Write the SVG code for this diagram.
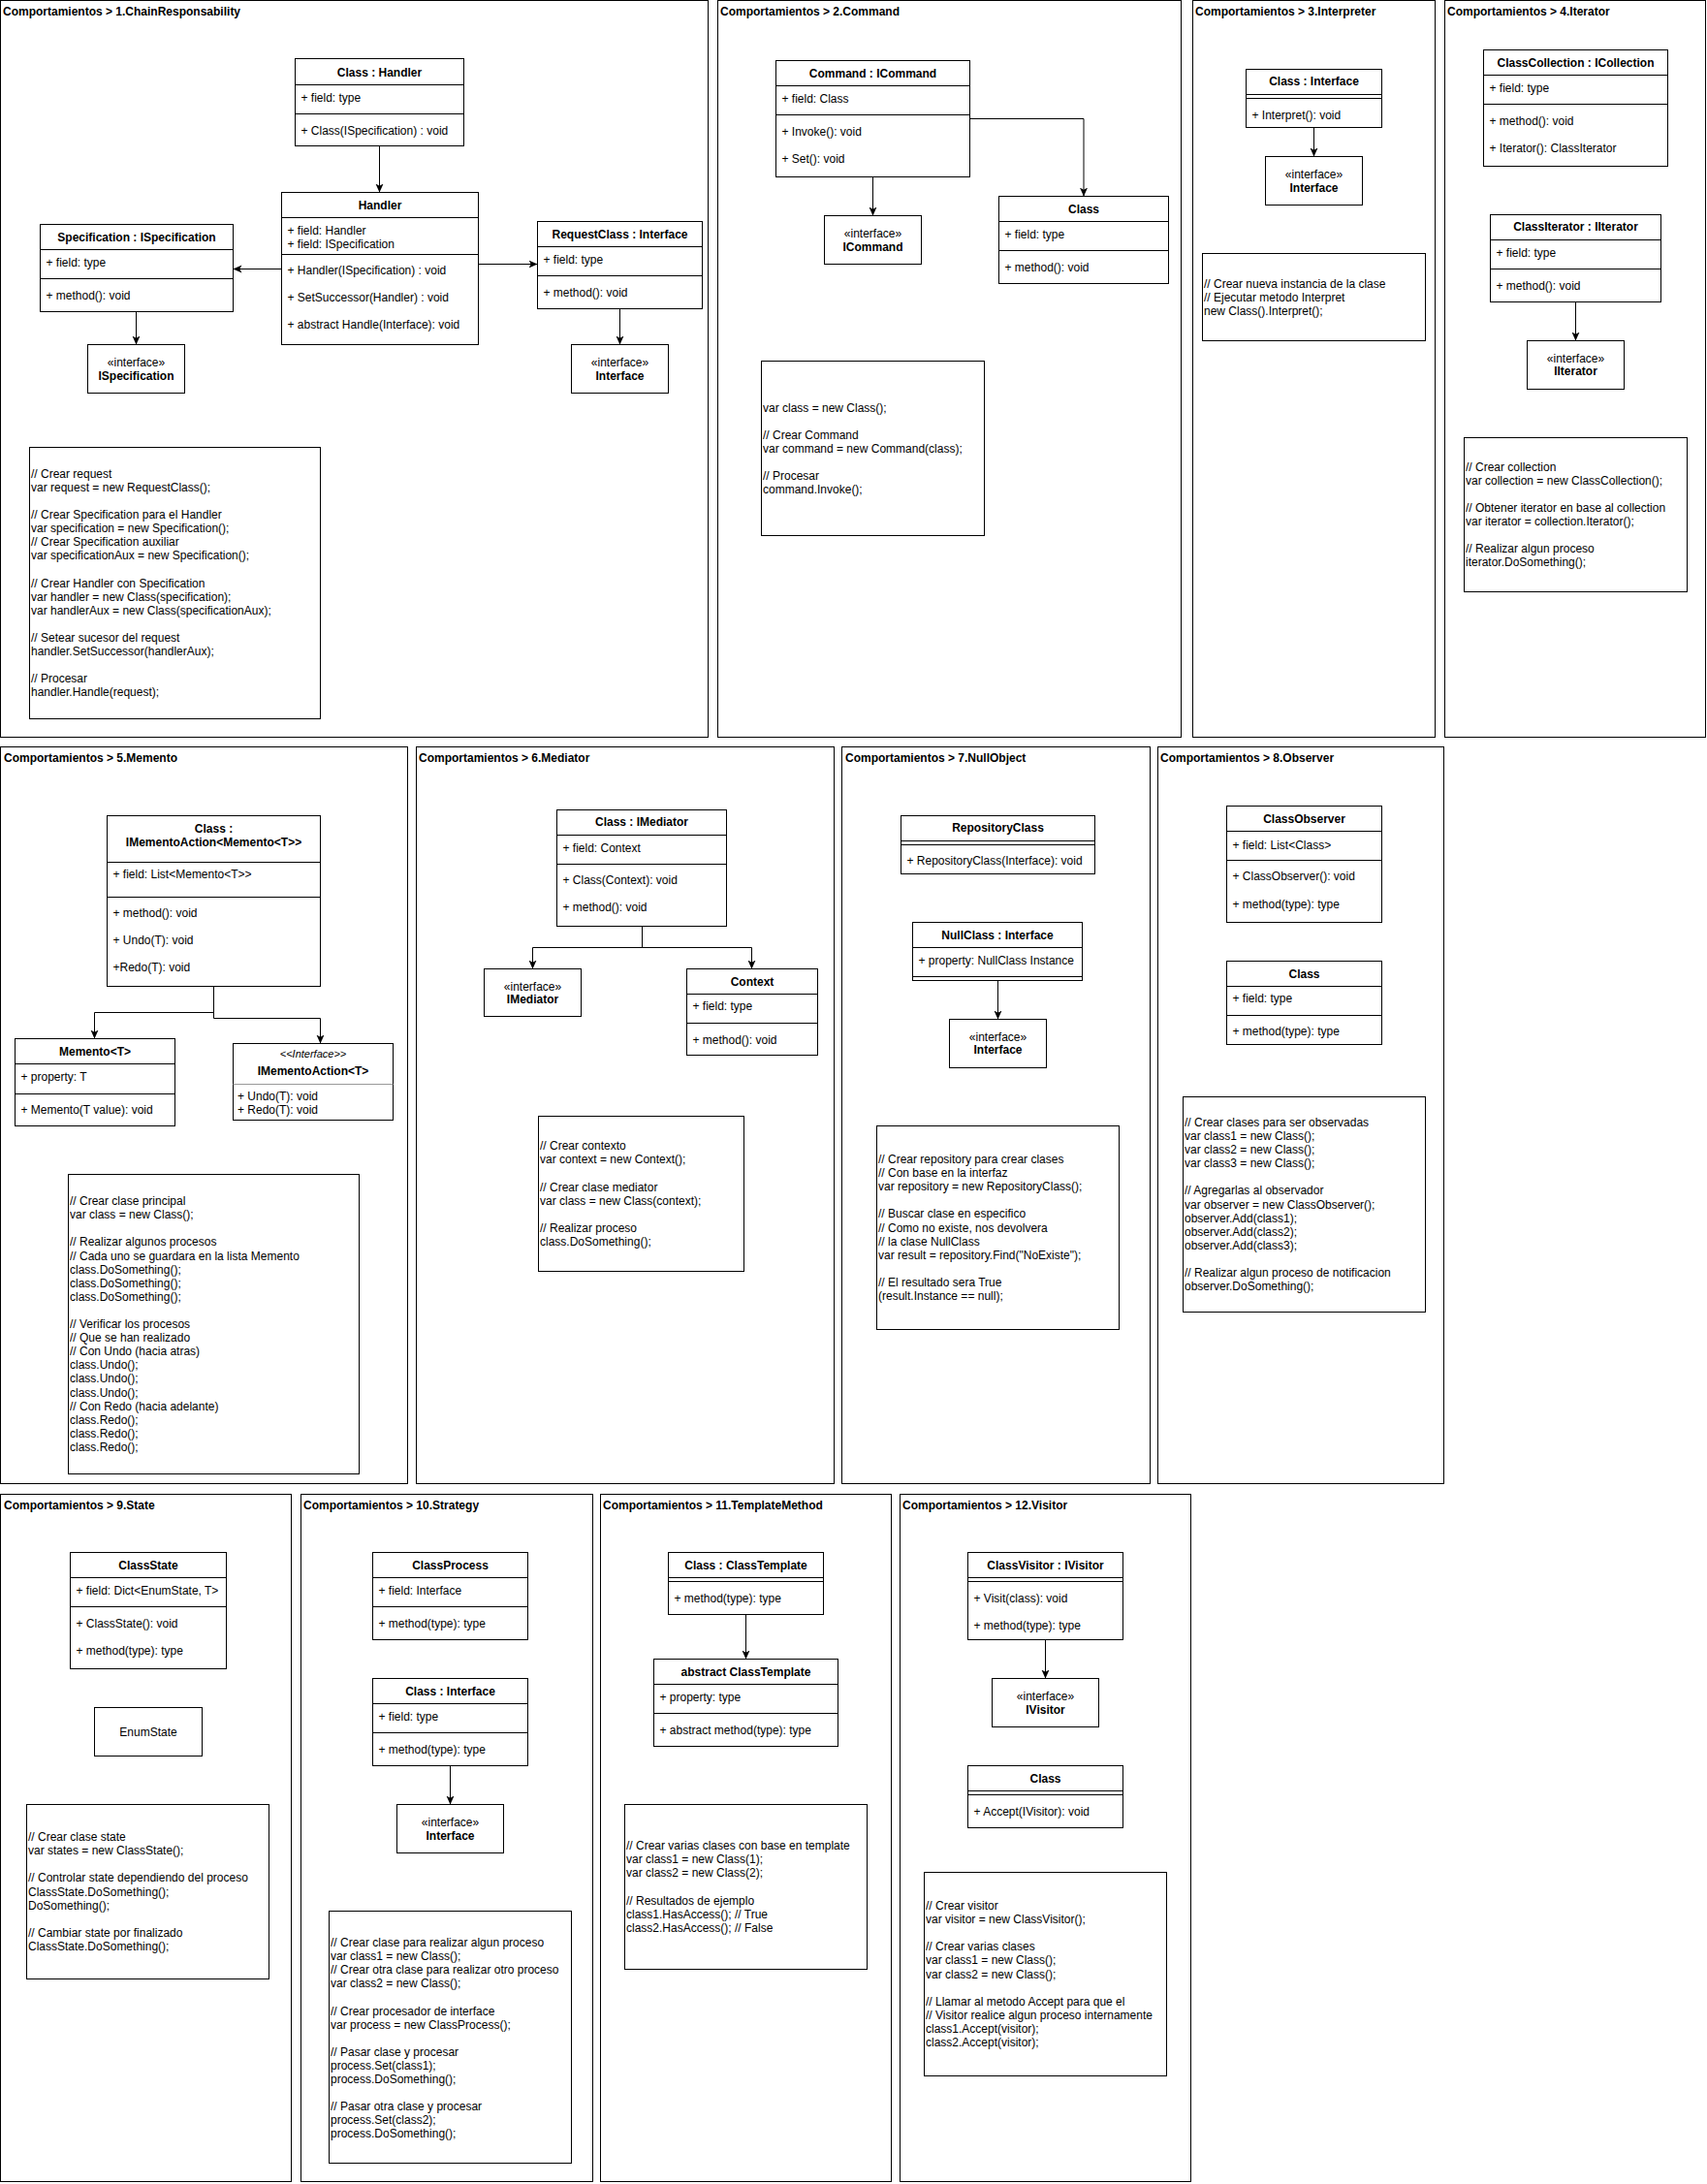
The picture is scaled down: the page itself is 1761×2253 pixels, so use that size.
<svg xmlns="http://www.w3.org/2000/svg" width="1761" height="2253" viewBox="0 0 1761 2253">
<style>
text{font-family:"Liberation Sans",Arial,Helvetica,sans-serif;font-size:12px;fill:#000}
.ti{font-weight:bold}
.hd{font-weight:bold;text-anchor:middle}
.st{text-anchor:middle}
.it{font-style:italic;text-anchor:middle;font-size:11px}
.fr,.bx{fill:#fff;stroke:#000;stroke-width:1}
.sep{stroke:#000;stroke-width:1}
.sepg{stroke:#999;stroke-width:1}
.cn{fill:none;stroke:#000;stroke-width:1;marker-end:url(#arr)}
</style>
<defs>
<marker id="arr" viewBox="0 0 10 10" refX="10" refY="5" markerWidth="9" markerHeight="9" markerUnits="userSpaceOnUse" orient="auto"><path d="M0,0.5 L10,5 L0,9.5 L2.5,5 z" fill="#000"/></marker>
</defs>
<rect x="0" y="0" width="1761" height="2253" fill="#fff"/>

<!-- Panel frames -->
<g id="panel-1"><rect class="fr" x="0.5" y="0.5" width="730" height="760"/><text class="ti" x="3" y="16">Comportamientos &gt; 1.ChainResponsability</text></g>
<g id="panel-2"><rect class="fr" x="740.5" y="0.5" width="478" height="760"/><text class="ti" x="743" y="16">Comportamientos &gt; 2.Command</text></g>
<g id="panel-3"><rect class="fr" x="1230.5" y="0.5" width="250" height="760"/><text class="ti" x="1233" y="16">Comportamientos &gt; 3.Interpreter</text></g>
<g id="panel-4"><rect class="fr" x="1490.5" y="0.5" width="269" height="760"/><text class="ti" x="1493" y="16">Comportamientos &gt; 4.Iterator</text></g>
<g id="panel-5"><rect class="fr" x="0.5" y="770.5" width="420" height="760"/><text class="ti" x="4" y="786">Comportamientos &gt; 5.Memento</text></g>
<g id="panel-6"><rect class="fr" x="429.5" y="770.5" width="431" height="760"/><text class="ti" x="432" y="786">Comportamientos &gt; 6.Mediator</text></g>
<g id="panel-7"><rect class="fr" x="868.5" y="770.5" width="318" height="760"/><text class="ti" x="872" y="786">Comportamientos &gt; 7.NullObject</text></g>
<g id="panel-8"><rect class="fr" x="1194.5" y="770.5" width="295" height="760"/><text class="ti" x="1197" y="786">Comportamientos &gt; 8.Observer</text></g>
<g id="panel-9"><rect class="fr" x="0.5" y="1541.5" width="300" height="709"/><text class="ti" x="4" y="1557">Comportamientos &gt; 9.State</text></g>
<g id="panel-10"><rect class="fr" x="310.5" y="1541.5" width="301" height="709"/><text class="ti" x="313" y="1557">Comportamientos &gt; 10.Strategy</text></g>
<g id="panel-11"><rect class="fr" x="619.5" y="1541.5" width="300" height="709"/><text class="ti" x="622" y="1557">Comportamientos &gt; 11.TemplateMethod</text></g>
<g id="panel-12"><rect class="fr" x="928.5" y="1541.5" width="300" height="709"/><text class="ti" x="931" y="1557">Comportamientos &gt; 12.Visitor</text></g>

<!-- Panel 1 -->
<g id="p1-class-handler">
<rect class="bx" x="304.5" y="60.5" width="174" height="90"/>
<line class="sep" x1="304.5" y1="87.5" x2="478.5" y2="87.5"/>
<line class="sep" x1="304.5" y1="117.5" x2="478.5" y2="117.5"/>
<text class="hd" x="391.5" y="79">Class : Handler</text>
<text x="310.5" y="105">+ field: type</text>
<text x="310.5" y="139">+ Class(ISpecification) : void</text>
</g>
<g id="p1-handler">
<rect class="bx" x="290.5" y="198.5" width="203" height="157"/>
<line class="sep" x1="290.5" y1="224.5" x2="493.5" y2="224.5"/>
<line class="sep" x1="290.5" y1="262.5" x2="493.5" y2="262.5"/>
<text class="hd" x="392" y="216">Handler</text>
<text x="296.5" y="242">+ field: Handler</text>
<text x="296.5" y="256">+ field: ISpecification</text>
<text x="296.5" y="283">+ Handler(ISpecification) : void</text>
<text x="296.5" y="311">+ SetSuccessor(Handler) : void</text>
<text x="296.5" y="339">+ abstract Handle(Interface): void</text>
</g>
<g id="p1-specification">
<rect class="bx" x="41.5" y="231.5" width="199" height="90"/>
<line class="sep" x1="41.5" y1="257.5" x2="240.5" y2="257.5"/>
<line class="sep" x1="41.5" y1="287.5" x2="240.5" y2="287.5"/>
<text class="hd" x="141" y="249">Specification : ISpecification</text>
<text x="47.5" y="275">+ field: type</text>
<text x="47.5" y="309">+ method(): void</text>
</g>
<g id="p1-requestclass">
<rect class="bx" x="554.5" y="228.5" width="170" height="90"/>
<line class="sep" x1="554.5" y1="254.5" x2="724.5" y2="254.5"/>
<line class="sep" x1="554.5" y1="284.5" x2="724.5" y2="284.5"/>
<text class="hd" x="639.5" y="246">RequestClass : Interface</text>
<text x="560.5" y="272">+ field: type</text>
<text x="560.5" y="306">+ method(): void</text>
</g>
<g id="p1-ispecification">
<rect class="bx" x="90.5" y="355.5" width="100" height="50"/>
<text class="st" x="140.5" y="378">«interface»</text>
<text class="hd" x="140.5" y="392">ISpecification</text>
</g>
<g id="p1-interface">
<rect class="bx" x="589.5" y="355.5" width="100" height="50"/>
<text class="st" x="639.5" y="378">«interface»</text>
<text class="hd" x="639.5" y="392">Interface</text>
</g>
<g id="p1-code">
<rect class="bx" x="30.5" y="461.5" width="300" height="280"/>
<text x="32" y="492.7"><tspan x="32">// Crear request</tspan><tspan x="32" dy="14.1">var request = new RequestClass();</tspan><tspan x="32" dy="28.2">// Crear Specification para el Handler</tspan><tspan x="32" dy="14.1">var specification = new Specification();</tspan><tspan x="32" dy="14.1">// Crear Specification auxiliar</tspan><tspan x="32" dy="14.1">var specificationAux = new Specification();</tspan><tspan x="32" dy="28.2">// Crear Handler con Specification</tspan><tspan x="32" dy="14.1">var handler = new Class(specification);</tspan><tspan x="32" dy="14.1">var handlerAux = new Class(specificationAux);</tspan><tspan x="32" dy="28.2">// Setear sucesor del request</tspan><tspan x="32" dy="14.1">handler.SetSuccessor(handlerAux);</tspan><tspan x="32" dy="28.2">// Procesar</tspan><tspan x="32" dy="14.1">handler.Handle(request);</tspan></text>
</g>

<!-- Panel 2 -->
<g id="p2-command">
<rect class="bx" x="800.5" y="62.5" width="200" height="120"/>
<line class="sep" x1="800.5" y1="88.5" x2="1000.5" y2="88.5"/>
<line class="sep" x1="800.5" y1="118.5" x2="1000.5" y2="118.5"/>
<text class="hd" x="900.5" y="79.5">Command : ICommand</text>
<text x="806.5" y="106">+ field: Class</text>
<text x="806.5" y="139.5">+ Invoke(): void</text>
<text x="806.5" y="167.5">+ Set(): void</text>
</g>
<g id="p2-icommand">
<rect class="bx" x="850.5" y="222.5" width="100" height="50"/>
<text class="st" x="900.5" y="245">«interface»</text>
<text class="hd" x="900.5" y="259">ICommand</text>
</g>
<g id="p2-class">
<rect class="bx" x="1030.5" y="202.5" width="175" height="90"/>
<line class="sep" x1="1030.5" y1="228.5" x2="1205.5" y2="228.5"/>
<line class="sep" x1="1030.5" y1="258.5" x2="1205.5" y2="258.5"/>
<text class="hd" x="1118" y="219.5">Class</text>
<text x="1036.5" y="246">+ field: type</text>
<text x="1036.5" y="279.5">+ method(): void</text>
</g>
<g id="p2-code">
<rect class="bx" x="785.5" y="372.5" width="230" height="180"/>
<text x="787" y="424.7"><tspan x="787">var class = new Class();</tspan><tspan x="787" dy="28.2">// Crear Command</tspan><tspan x="787" dy="14.1">var command = new Command(class);</tspan><tspan x="787" dy="28.2">// Procesar</tspan><tspan x="787" dy="14.1">command.Invoke();</tspan></text>
</g>

<!-- Panel 3 -->
<g id="p3-class">
<rect class="bx" x="1285.5" y="71.5" width="140" height="60"/>
<line class="sep" x1="1285.5" y1="97.5" x2="1425.5" y2="97.5"/>
<line class="sep" x1="1285.5" y1="101.5" x2="1425.5" y2="101.5"/>
<text class="hd" x="1355.5" y="88">Class : Interface</text>
<text x="1291.5" y="122.6">+ Interpret(): void</text>
</g>
<g id="p3-interface">
<rect class="bx" x="1305.5" y="161.5" width="100" height="50"/>
<text class="st" x="1355.5" y="184">«interface»</text>
<text class="hd" x="1355.5" y="198">Interface</text>
</g>
<g id="p3-code">
<rect class="bx" x="1240.5" y="261.5" width="230" height="90"/>
<text x="1242" y="296.5"><tspan x="1242">// Crear nueva instancia de la clase</tspan><tspan x="1242" dy="14.1">// Ejecutar metodo Interpret</tspan><tspan x="1242" dy="14.1">new Class().Interpret();</tspan></text>
</g>

<!-- Panel 4 -->
<g id="p4-classcollection">
<rect class="bx" x="1530.5" y="51.5" width="190" height="120"/>
<line class="sep" x1="1530.5" y1="77.5" x2="1720.5" y2="77.5"/>
<line class="sep" x1="1530.5" y1="107.5" x2="1720.5" y2="107.5"/>
<text class="hd" x="1625.5" y="68.5">ClassCollection : ICollection</text>
<text x="1536.5" y="94.5">+ field: type</text>
<text x="1536.5" y="128.5">+ method(): void</text>
<text x="1536.5" y="156.5">+ Iterator(): ClassIterator</text>
</g>
<g id="p4-classiterator">
<rect class="bx" x="1537.5" y="221.5" width="176" height="90"/>
<line class="sep" x1="1537.5" y1="247.5" x2="1713.5" y2="247.5"/>
<line class="sep" x1="1537.5" y1="277.5" x2="1713.5" y2="277.5"/>
<text class="hd" x="1625.5" y="238.4">ClassIterator : IIterator</text>
<text x="1543.5" y="264.5">+ field: type</text>
<text x="1543.5" y="298.5">+ method(): void</text>
</g>
<g id="p4-iiterator">
<rect class="bx" x="1575.5" y="351.5" width="100" height="50"/>
<text class="st" x="1625.5" y="373.6">«interface»</text>
<text class="hd" x="1625.5" y="387.4">IIterator</text>
</g>
<g id="p4-code">
<rect class="bx" x="1510.5" y="451.5" width="230" height="159"/>
<text x="1512" y="485.7"><tspan x="1512">// Crear collection</tspan><tspan x="1512" dy="14.1">var collection = new ClassCollection();</tspan><tspan x="1512" dy="28.2">// Obtener iterator en base al collection</tspan><tspan x="1512" dy="14.1">var iterator = collection.Iterator();</tspan><tspan x="1512" dy="28.2">// Realizar algun proceso</tspan><tspan x="1512" dy="14.1">iterator.DoSomething();</tspan></text>
</g>

<!-- Panel 5 -->
<g id="p5-class">
<rect class="bx" x="110.5" y="841.5" width="220" height="176"/>
<line class="sep" x1="110.5" y1="889.5" x2="330.5" y2="889.5"/>
<line class="sep" x1="110.5" y1="925.5" x2="330.5" y2="925.5"/>
<text class="hd" x="220.5" y="859">Class :</text>
<text class="hd" x="220.5" y="872.5">IMementoAction&lt;Memento&lt;T&gt;&gt;</text>
<text x="116.5" y="906.3">+ field: List&lt;Memento&lt;T&gt;&gt;</text>
<text x="116.5" y="946.1">+ method(): void</text>
<text x="116.5" y="974.2">+ Undo(T): void</text>
<text x="116.5" y="1002.3">+Redo(T): void</text>
</g>
<g id="p5-memento">
<rect class="bx" x="15.5" y="1071.5" width="165" height="90"/>
<line class="sep" x1="15.5" y1="1097.5" x2="180.5" y2="1097.5"/>
<line class="sep" x1="15.5" y1="1128.5" x2="180.5" y2="1128.5"/>
<text class="hd" x="98" y="1088.6">Memento&lt;T&gt;</text>
<text x="21.5" y="1114.8">+ property: T</text>
<text x="21.5" y="1148.7">+ Memento(T value): void</text>
</g>
<g id="p5-imementoaction">
<rect class="bx" x="240.5" y="1076.5" width="165" height="79"/>
<line class="sepg" x1="240.5" y1="1118.5" x2="405.5" y2="1118.5"/>
<text class="it" x="323" y="1091">&lt;&lt;Interface&gt;&gt;</text>
<text class="hd" x="323" y="1108.5">IMementoAction&lt;T&gt;</text>
<text x="245" y="1135">+ Undo(T): void</text>
<text x="245" y="1149.2">+ Redo(T): void</text>
</g>
<g id="p5-code">
<rect class="bx" x="70.5" y="1211.5" width="300" height="309"/>
<text x="72" y="1243.1"><tspan x="72">// Crear clase principal</tspan><tspan x="72" dy="14.1">var class = new Class();</tspan><tspan x="72" dy="28.2">// Realizar algunos procesos</tspan><tspan x="72" dy="14.1">// Cada uno se guardara en la lista Memento</tspan><tspan x="72" dy="14.1">class.DoSomething();</tspan><tspan x="72" dy="14.1">class.DoSomething();</tspan><tspan x="72" dy="14.1">class.DoSomething();</tspan><tspan x="72" dy="28.2">// Verificar los procesos</tspan><tspan x="72" dy="14.1">// Que se han realizado</tspan><tspan x="72" dy="14.1">// Con Undo (hacia atras)</tspan><tspan x="72" dy="14.1">class.Undo();</tspan><tspan x="72" dy="14.1">class.Undo();</tspan><tspan x="72" dy="14.1">class.Undo();</tspan><tspan x="72" dy="14.1">// Con Redo (hacia adelante)</tspan><tspan x="72" dy="14.1">class.Redo();</tspan><tspan x="72" dy="14.1">class.Redo();</tspan><tspan x="72" dy="14.1">class.Redo();</tspan></text>
</g>

<!-- Panel 6 -->
<g id="p6-class">
<rect class="bx" x="574.5" y="835.5" width="175" height="120"/>
<line class="sep" x1="574.5" y1="861.5" x2="749.5" y2="861.5"/>
<line class="sep" x1="574.5" y1="891.5" x2="749.5" y2="891.5"/>
<text class="hd" x="662" y="852.2">Class : IMediator</text>
<text x="580.5" y="878.6">+ field: Context</text>
<text x="580.5" y="912.2">+ Class(Context): void</text>
<text x="580.5" y="940.4">+ method(): void</text>
</g>
<g id="p6-imediator">
<rect class="bx" x="499.5" y="999.5" width="100" height="49"/>
<text class="st" x="549.5" y="1021.5">«interface»</text>
<text class="hd" x="549.5" y="1035.4">IMediator</text>
</g>
<g id="p6-context">
<rect class="bx" x="708.5" y="999.5" width="135" height="89"/>
<line class="sep" x1="708.5" y1="1025.5" x2="843.5" y2="1025.5"/>
<line class="sep" x1="708.5" y1="1055.5" x2="843.5" y2="1055.5"/>
<text class="hd" x="776" y="1016.5">Context</text>
<text x="714.5" y="1042.2">+ field: type</text>
<text x="714.5" y="1076.5">+ method(): void</text>
</g>
<g id="p6-code">
<rect class="bx" x="555.5" y="1151.5" width="212" height="160"/>
<text x="557" y="1186.2"><tspan x="557">// Crear contexto</tspan><tspan x="557" dy="14.1">var context = new Context();</tspan><tspan x="557" dy="28.2">// Crear clase mediator</tspan><tspan x="557" dy="14.1">var class = new Class(context);</tspan><tspan x="557" dy="28.2">// Realizar proceso</tspan><tspan x="557" dy="14.1">class.DoSomething();</tspan></text>
</g>

<!-- Panel 7 -->
<g id="p7-repositoryclass">
<rect class="bx" x="929.5" y="841.5" width="200" height="60"/>
<line class="sep" x1="929.5" y1="867.5" x2="1129.5" y2="867.5"/>
<line class="sep" x1="929.5" y1="871.5" x2="1129.5" y2="871.5"/>
<text class="hd" x="1029.5" y="858.4">RepositoryClass</text>
<text x="935.5" y="892.3">+ RepositoryClass(Interface): void</text>
</g>
<g id="p7-nullclass">
<rect class="bx" x="941.5" y="951.5" width="175" height="60"/>
<line class="sep" x1="941.5" y1="977.5" x2="1116.5" y2="977.5"/>
<line class="sep" x1="941.5" y1="1007.5" x2="1116.5" y2="1007.5"/>
<text class="hd" x="1029" y="968.6">NullClass : Interface</text>
<text x="947.5" y="994.6">+ property: NullClass Instance</text>
</g>
<g id="p7-interface">
<rect class="bx" x="979.5" y="1051.5" width="100" height="50"/>
<text class="st" x="1029.5" y="1073.6">«interface»</text>
<text class="hd" x="1029.5" y="1087.2">Interface</text>
</g>
<g id="p7-code">
<rect class="bx" x="904.5" y="1161.5" width="250" height="210"/>
<text x="906" y="1200"><tspan x="906">// Crear repository para crear clases</tspan><tspan x="906" dy="14.1">// Con base en la interfaz</tspan><tspan x="906" dy="14.1">var repository = new RepositoryClass();</tspan><tspan x="906" dy="28.2">// Buscar clase en especifico</tspan><tspan x="906" dy="14.1">// Como no existe, nos devolvera</tspan><tspan x="906" dy="14.1">// la clase NullClass</tspan><tspan x="906" dy="14.1">var result = repository.Find("NoExiste");</tspan><tspan x="906" dy="28.2">// El resultado sera True</tspan><tspan x="906" dy="14.1">(result.Instance == null);</tspan></text>
</g>

<!-- Panel 8 -->
<g id="p8-classobserver">
<rect class="bx" x="1265.5" y="831.5" width="160" height="120"/>
<line class="sep" x1="1265.5" y1="857.5" x2="1425.5" y2="857.5"/>
<line class="sep" x1="1265.5" y1="887.5" x2="1425.5" y2="887.5"/>
<text class="hd" x="1345.5" y="849">ClassObserver</text>
<text x="1271.5" y="875.6">+ field: List&lt;Class&gt;</text>
<text x="1271.5" y="908.4">+ ClassObserver(): void</text>
<text x="1271.5" y="937">+ method(type): type</text>
</g>
<g id="p8-class">
<rect class="bx" x="1265.5" y="991.5" width="160" height="86"/>
<line class="sep" x1="1265.5" y1="1017.5" x2="1425.5" y2="1017.5"/>
<line class="sep" x1="1265.5" y1="1047.5" x2="1425.5" y2="1047.5"/>
<text class="hd" x="1345.5" y="1008.5">Class</text>
<text x="1271.5" y="1034.4">+ field: type</text>
<text x="1271.5" y="1068.3">+ method(type): type</text>
</g>
<g id="p8-code">
<rect class="bx" x="1220.5" y="1131.5" width="250" height="222"/>
<text x="1222" y="1161.9"><tspan x="1222">// Crear clases para ser observadas</tspan><tspan x="1222" dy="14.1">var class1 = new Class();</tspan><tspan x="1222" dy="14.1">var class2 = new Class();</tspan><tspan x="1222" dy="14.1">var class3 = new Class();</tspan><tspan x="1222" dy="28.2">// Agregarlas al observador</tspan><tspan x="1222" dy="14.1">var observer = new ClassObserver();</tspan><tspan x="1222" dy="14.1">observer.Add(class1);</tspan><tspan x="1222" dy="14.1">observer.Add(class2);</tspan><tspan x="1222" dy="14.1">observer.Add(class3);</tspan><tspan x="1222" dy="28.2">// Realizar algun proceso de notificacion</tspan><tspan x="1222" dy="14.1">observer.DoSomething();</tspan></text>
</g>

<!-- Panel 9 -->
<g id="p9-classstate">
<rect class="bx" x="72.5" y="1601.5" width="161" height="120"/>
<line class="sep" x1="72.5" y1="1627.5" x2="233.5" y2="1627.5"/>
<line class="sep" x1="72.5" y1="1657.5" x2="233.5" y2="1657.5"/>
<text class="hd" x="153" y="1618.7">ClassState</text>
<text x="78.5" y="1644.7">+ field: Dict&lt;EnumState, T&gt;</text>
<text x="78.5" y="1678.7">+ ClassState(): void</text>
<text x="78.5" y="1706.7">+ method(type): type</text>
</g>
<g id="p9-enumstate">
<rect class="bx" x="97.5" y="1761.5" width="111" height="50"/>
<text class="st" x="153" y="1790.7">EnumState</text>
</g>
<g id="p9-code">
<rect class="bx" x="27.5" y="1861.5" width="250" height="180"/>
<text x="29" y="1899.1"><tspan x="29">// Crear clase state</tspan><tspan x="29" dy="14.1">var states = new ClassState();</tspan><tspan x="29" dy="28.2">// Controlar state dependiendo del proceso</tspan><tspan x="29" dy="14.1">ClassState.DoSomething();</tspan><tspan x="29" dy="14.1">DoSomething();</tspan><tspan x="29" dy="28.2">// Cambiar state por finalizado</tspan><tspan x="29" dy="14.1">ClassState.DoSomething();</tspan></text>
</g>

<!-- Panel 10 -->
<g id="p10-classprocess">
<rect class="bx" x="384.5" y="1601.5" width="160" height="90"/>
<line class="sep" x1="384.5" y1="1627.5" x2="544.5" y2="1627.5"/>
<line class="sep" x1="384.5" y1="1657.5" x2="544.5" y2="1657.5"/>
<text class="hd" x="464.5" y="1618.7">ClassProcess</text>
<text x="390.5" y="1644.7">+ field: Interface</text>
<text x="390.5" y="1678.7">+ method(type): type</text>
</g>
<g id="p10-class">
<rect class="bx" x="384.5" y="1731.5" width="160" height="90"/>
<line class="sep" x1="384.5" y1="1757.5" x2="544.5" y2="1757.5"/>
<line class="sep" x1="384.5" y1="1787.5" x2="544.5" y2="1787.5"/>
<text class="hd" x="464.5" y="1748.7">Class : Interface</text>
<text x="390.5" y="1774.7">+ field: type</text>
<text x="390.5" y="1808.7">+ method(type): type</text>
</g>
<g id="p10-interface">
<rect class="bx" x="409.5" y="1861.5" width="110" height="50"/>
<text class="st" x="464.5" y="1883.7">«interface»</text>
<text class="hd" x="464.5" y="1897.7">Interface</text>
</g>
<g id="p10-code">
<rect class="bx" x="339.5" y="1971.5" width="250" height="260"/>
<text x="341" y="2008"><tspan x="341">// Crear clase para realizar algun proceso</tspan><tspan x="341" dy="14.1">var class1 = new Class();</tspan><tspan x="341" dy="14.1">// Crear otra clase para realizar otro proceso</tspan><tspan x="341" dy="14.1">var class2 = new Class();</tspan><tspan x="341" dy="28.2">// Crear procesador de interface</tspan><tspan x="341" dy="14.1">var process = new ClassProcess();</tspan><tspan x="341" dy="28.2">// Pasar clase y procesar</tspan><tspan x="341" dy="14.1">process.Set(class1);</tspan><tspan x="341" dy="14.1">process.DoSomething();</tspan><tspan x="341" dy="28.2">// Pasar otra clase y procesar</tspan><tspan x="341" dy="14.1">process.Set(class2);</tspan><tspan x="341" dy="14.1">process.DoSomething();</tspan></text>
</g>

<!-- Panel 11 -->
<g id="p11-class">
<rect class="bx" x="689.5" y="1601.5" width="160" height="64"/>
<line class="sep" x1="689.5" y1="1627.5" x2="849.5" y2="1627.5"/>
<line class="sep" x1="689.5" y1="1631.5" x2="849.5" y2="1631.5"/>
<text class="hd" x="769.5" y="1618.7">Class : ClassTemplate</text>
<text x="695.5" y="1652.7">+ method(type): type</text>
</g>
<g id="p11-classtemplate">
<rect class="bx" x="674.5" y="1711.5" width="190" height="90"/>
<line class="sep" x1="674.5" y1="1737.5" x2="864.5" y2="1737.5"/>
<line class="sep" x1="674.5" y1="1767.5" x2="864.5" y2="1767.5"/>
<text class="hd" x="769.5" y="1728.7">abstract ClassTemplate</text>
<text x="680.5" y="1754.7">+ property: type</text>
<text x="680.5" y="1788.7">+ abstract method(type): type</text>
</g>
<g id="p11-code">
<rect class="bx" x="644.5" y="1861.5" width="250" height="170"/>
<text x="646" y="1908.2"><tspan x="646">// Crear varias clases con base en template</tspan><tspan x="646" dy="14.1">var class1 = new Class(1);</tspan><tspan x="646" dy="14.1">var class2 = new Class(2);</tspan><tspan x="646" dy="28.2">// Resultados de ejemplo</tspan><tspan x="646" dy="14.1">class1.HasAccess(); // True</tspan><tspan x="646" dy="14.1">class2.HasAccess(); // False</tspan></text>
</g>

<!-- Panel 12 -->
<g id="p12-classvisitor">
<rect class="bx" x="998.5" y="1601.5" width="160" height="90"/>
<line class="sep" x1="998.5" y1="1627.5" x2="1158.5" y2="1627.5"/>
<line class="sep" x1="998.5" y1="1631.5" x2="1158.5" y2="1631.5"/>
<text class="hd" x="1078.5" y="1618.7">ClassVisitor : IVisitor</text>
<text x="1004.5" y="1652.7">+ Visit(class): void</text>
<text x="1004.5" y="1680.7">+ method(type): type</text>
</g>
<g id="p12-ivisitor">
<rect class="bx" x="1023.5" y="1731.5" width="110" height="50"/>
<text class="st" x="1078.5" y="1754">«interface»</text>
<text class="hd" x="1078.5" y="1768">IVisitor</text>
</g>
<g id="p12-class">
<rect class="bx" x="998.5" y="1821.5" width="160" height="64"/>
<line class="sep" x1="998.5" y1="1847.5" x2="1158.5" y2="1847.5"/>
<line class="sep" x1="998.5" y1="1851.5" x2="1158.5" y2="1851.5"/>
<text class="hd" x="1078.5" y="1838.7">Class</text>
<text x="1004.5" y="1872.7">+ Accept(IVisitor): void</text>
</g>
<g id="p12-code">
<rect class="bx" x="953.5" y="1931.5" width="250" height="210"/>
<text x="955" y="1970"><tspan x="955">// Crear visitor</tspan><tspan x="955" dy="14.1">var visitor = new ClassVisitor();</tspan><tspan x="955" dy="28.2">// Crear varias clases</tspan><tspan x="955" dy="14.1">var class1 = new Class();</tspan><tspan x="955" dy="14.1">var class2 = new Class();</tspan><tspan x="955" dy="28.2">// Llamar al metodo Accept para que el</tspan><tspan x="955" dy="14.1">// Visitor realice algun proceso internamente</tspan><tspan x="955" dy="14.1">class1.Accept(visitor);</tspan><tspan x="955" dy="14.1">class2.Accept(visitor);</tspan></text>
</g>

<!-- Connectors -->
<g id="connectors">
<path class="cn" d="M391.5,150.5 V198.5"/>
<path class="cn" d="M290.5,277.5 H240.5"/>
<path class="cn" d="M493.5,272.5 H554.5"/>
<path class="cn" d="M140.5,321.5 V355.5"/>
<path class="cn" d="M639.5,318.5 V355.5"/>
<path class="cn" d="M900.5,182.5 V222.5"/>
<path class="cn" d="M1000.5,122.5 H1118 V202.5"/>
<path class="cn" d="M1355.5,131.5 V161.5"/>
<path class="cn" d="M1625.5,311.5 V351.5"/>
<path class="cn" d="M220.5,1017.5 V1044.5 H97.5 V1071.5"/>
<path class="cn" d="M220.5,1017.5 V1050.5 H330.5 V1076.5"/>
<path class="cn" d="M662.5,955.5 V977.5 H549.5 V999.5"/>
<path class="cn" d="M662.5,955.5 V977.5 H775.5 V999.5"/>
<path class="cn" d="M1029.5,1011.5 V1051.5"/>
<path class="cn" d="M464.5,1821.5 V1861.5"/>
<path class="cn" d="M769.5,1665.5 V1711.5"/>
<path class="cn" d="M1078.5,1691.5 V1731.5"/>
</g>
</svg>
